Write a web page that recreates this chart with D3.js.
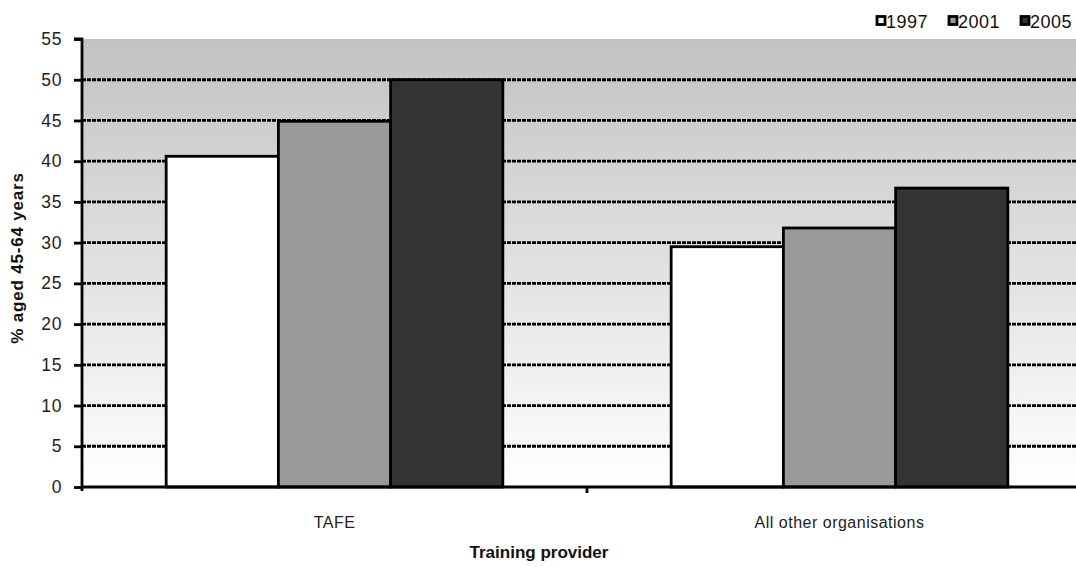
<!DOCTYPE html>
<html>
<head>
<meta charset="utf-8">
<script src="https://cdn.jsdelivr.net/npm/d3@7"></script>
<style>
  html, body { margin: 0; padding: 0; background: #ffffff; }
  svg { display: block; font-family: "Liberation Sans", Arial, sans-serif; }
</style>
</head>
<body>
<svg id="chart" width="1076" height="567"></svg>
<script>
// Share of trainees aged 45-64 years, by training provider and survey year
const categories = ["TAFE", "All other organisations"];
const years = ["1997", "2001", "2005"];
const values1997 = [40.6, 29.5];
const values2001 = [44.9, 31.8];
const values2005 = [50.0, 36.7];
const yTicks = [0, 5, 10, 15, 20, 25, 30, 35, 40, 45, 50, 55];

const seriesValues = [values1997, values2001, values2005];
const fills = ["#ffffff", "#999999", "#333333"];

const svg = d3.select("#chart");
const W = 1076, H = 567;
const plot = { left: 82, right: 1092, top: 39, bottom: 487 };

const x0 = d3.scaleBand().domain(categories).range([plot.left, plot.right]).padding(0);
// gap between groups is 1.5 bar widths
const barW = x0.bandwidth() / (years.length + 1.5);
const x1 = d3.scaleBand().domain(years)
  .range([barW * 0.75, x0.bandwidth() - barW * 0.75]).padding(0);
const y = d3.scaleLinear().domain([0, 55]).range([plot.bottom, plot.top]);

// plot area: vertical grey-to-white gradient
const defs = svg.append("defs");
const grad = defs.append("linearGradient").attr("id", "plotBg")
  .attr("x1", 0).attr("y1", 0).attr("x2", 0).attr("y2", 1);
grad.append("stop").attr("offset", "0%").attr("stop-color", "#c2c2c2");
grad.append("stop").attr("offset", "100%").attr("stop-color", "#ffffff");

svg.append("rect")
  .attr("x", plot.left).attr("y", plot.top)
  .attr("width", plot.right - plot.left).attr("height", plot.bottom - plot.top)
  .attr("fill", "url(#plotBg)");

// dashed horizontal gridlines
svg.append("g").selectAll("line")
  .data(yTicks.filter(t => t > 0 && t < 55))
  .join("line")
  .attr("x1", plot.left).attr("x2", plot.right)
  .attr("y1", d => y(d)).attr("y2", d => y(d))
  .attr("stroke", "#000").attr("stroke-width", 2.8)
  .attr("stroke-dasharray", "4,1");

// bars
const groups = svg.append("g").selectAll("g")
  .data(categories)
  .join("g")
  .attr("transform", d => `translate(${x0(d)},0)`);

groups.selectAll("rect")
  .data((c, ci) => years.map((yr, si) => ({ yr, si, v: seriesValues[si][ci] })))
  .join("rect")
  .attr("x", d => x1(d.yr))
  .attr("width", x1.bandwidth())
  .attr("y", d => y(d.v))
  .attr("height", d => y(0) - y(d.v))
  .attr("fill", d => fills[d.si])
  .attr("stroke", "#000").attr("stroke-width", 2.8);

// y axis
const yAxis = d3.axisLeft(y).tickValues(yTicks).tickSize(8).tickPadding(12);
const gy = svg.append("g").attr("transform", `translate(${plot.left},0)`).call(yAxis);
gy.select(".domain").attr("stroke", "#000").attr("stroke-width", 2.8)
  .attr("d", `M-8,${plot.top}H0V${plot.bottom + 4}`);
gy.selectAll(".tick line").attr("stroke", "#000").attr("stroke-width", 2.8);
gy.selectAll(".tick text")
  .attr("font-size", 17.5).attr("fill", "#222")
  .attr("letter-spacing", "0.6px")
  .attr("font-family", "Liberation Sans, Arial, sans-serif");

// x axis
const xAxis = d3.axisBottom(x0).tickSize(0).tickPadding(30);
const gx = svg.append("g").attr("transform", `translate(0,${plot.bottom})`).call(xAxis);
gx.select(".domain").attr("stroke", "#000").attr("stroke-width", 2.8)
  .attr("d", `M${plot.left},0H${plot.right}`);
gx.selectAll(".tick text")
  .attr("font-size", 16).attr("fill", "#222")
  .attr("letter-spacing", "0.5px")
  .attr("font-family", "Liberation Sans, Arial, sans-serif");
// boundary tick between categories
gx.append("line")
  .attr("x1", x0(categories[1])).attr("x2", x0(categories[1]))
  .attr("y1", 0).attr("y2", 6)
  .attr("stroke", "#000").attr("stroke-width", 2.8);

// axis titles
svg.append("text")
  .attr("x", 539).attr("y", 558)
  .attr("text-anchor", "middle")
  .attr("font-size", 17).attr("font-weight", "bold").attr("fill", "#111")
  .text("Training provider");

svg.append("text")
  .attr("transform", `translate(23,${258}) rotate(-90)`)
  .attr("text-anchor", "middle")
  .attr("font-size", 17).attr("font-weight", "bold").attr("fill", "#111")
  .attr("letter-spacing", "0.8px")
  .text("% aged 45-64 years");

// legend
const legend = svg.append("g");
legend.append("rect")
  .attr("x", 858).attr("y", 0).attr("width", W - 858).attr("height", 38)
  .attr("fill", "#ffffff");
const legendX = [876, 948, 1020];
const items = legend.selectAll("g.item")
  .data(years)
  .join("g").attr("class", "item")
  .attr("transform", (d, i) => `translate(${legendX[i]},0)`);
items.append("rect")
  .attr("x", 1).attr("y", 16.5).attr("width", 8).attr("height", 8)
  .attr("fill", (d, i) => fills[i])
  .attr("stroke", "#000").attr("stroke-width", 2.8);
items.append("text")
  .attr("x", 10).attr("y", 28)
  .attr("font-size", 18).attr("fill", "#111")
  .attr("letter-spacing", "0.5px")
  .text(d => d);
</script>
</body>
</html>
